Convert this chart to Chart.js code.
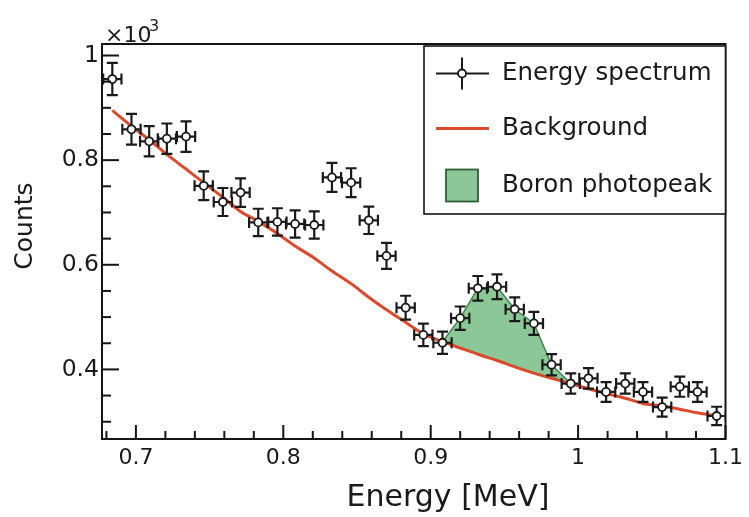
<!DOCTYPE html>
<html>
<head>
<meta charset="utf-8">
<script src="https://cdn.jsdelivr.net/npm/chart.js@4.4.0/dist/chart.umd.min.js"></script>
<style>
  html, body { margin: 0; padding: 0; background: #fff; }
  #plot { display: block; }
</style>
</head>
<body>
<canvas id="plot" width="749" height="517"></canvas>
<script>
// bin centres [MeV]
var energy = [0.684, 0.697, 0.709, 0.721, 0.734, 0.746, 0.759, 0.771, 0.783, 0.796,
              0.808, 0.821, 0.833, 0.846, 0.858, 0.870, 0.883, 0.895, 0.908, 0.920,
              0.932, 0.945, 0.957, 0.970, 0.982, 0.995, 1.007, 1.019, 1.032, 1.044,
              1.057, 1.069, 1.081, 1.094];
var counts = [955, 859, 836, 841, 845, 751, 720, 738, 681, 682,
              678, 676, 767, 757, 685, 617, 518, 466, 451, 498,
              555, 558, 515, 488, 409, 373, 383, 357, 373, 357,
              328, 367, 357, 311];
var countErr = [30.9, 29.3, 28.9, 29.0, 29.1, 27.4, 26.8, 27.2, 26.1, 26.1,
                26.0, 26.0, 27.7, 27.5, 26.2, 24.8, 22.8, 21.6, 21.2, 22.3,
                23.6, 23.6, 22.7, 22.1, 20.2, 19.3, 19.6, 18.9, 19.3, 18.9,
                18.1, 19.2, 18.9, 17.6];
var binHalfWidth = 0.0062;
var background = [895, 865, 839, 811, 783, 757, 729, 702, 683, 660,
                  636, 613, 588, 564, 538, 514, 490, 468, 453, 441,
                  429, 417, 405, 393, 383, 373, 363, 354, 345, 335,
                  330, 324, 317, 311];
// photopeak window: bins 18..25
var peakFirst = 18;
var peakTop = [453, 498, 555, 558, 515, 488, 409, 373];

var xTicks = [0.7, 0.8, 0.9, 1.0, 1.1];
var xTickLabels = ['0.7', '0.8', '0.9', '1', '1.1'];
var xMinorTicks = [0.68, 0.72, 0.74, 0.76, 0.78, 0.82, 0.84, 0.86, 0.88,
                   0.92, 0.94, 0.96, 0.98, 1.02, 1.04, 1.06, 1.08];
var yTicks = [400, 600, 800, 1000];
var yTickLabels = ['0.4', '0.6', '0.8', '1'];
var yMinorTicks = [300, 350, 450, 500, 550, 650, 700, 750, 850, 900, 950];

var FONT = "'DejaVu Sans', sans-serif";
var INK = '#1a1a1a';
var RED = '#db4a2c';
var GREEN = 'rgba(128, 194, 140, 0.9)';
var GREEN_EDGE = '#3d8a4d';

function toPoints(xs, ys) {
  return ys.map(function(y, i) { return { x: xs[i], y: y }; });
}

var peakEnergy = energy.slice(peakFirst, peakFirst + peakTop.length);
var peakBase = background.slice(peakFirst, peakFirst + peakTop.length);

function seg(ctx, x1, y1, x2, y2) {
  ctx.moveTo(x1, y1);
  ctx.lineTo(x2, y2);
}

// ROOT-like frame, inner ticks, error bars and legend box
var rootStyle = {
  id: 'rootStyle',
  beforeDatasetDraw: function(chart, args) {
    if (args.index !== 0) return;
    var ctx = chart.ctx, xs = chart.scales.x, ys = chart.scales.y;
    var a = chart.chartArea;
    ctx.save();
    ctx.beginPath();
    ctx.rect(a.left, a.top, a.right - a.left, a.bottom - a.top);
    ctx.clip();
    ctx.strokeStyle = INK;
    ctx.lineWidth = 2.2;
    var cap = 5.5;
    ctx.beginPath();
    for (var i = 0; i < energy.length; i++) {
      var px = xs.getPixelForValue(energy[i]);
      var py = ys.getPixelForValue(counts[i]);
      var yHi = ys.getPixelForValue(counts[i] + countErr[i]);
      var yLo = ys.getPixelForValue(counts[i] - countErr[i]);
      var xLo = xs.getPixelForValue(energy[i] - binHalfWidth);
      var xHi = xs.getPixelForValue(energy[i] + binHalfWidth);
      seg(ctx, px, yHi, px, yLo);
      seg(ctx, px - cap, yHi, px + cap, yHi);
      seg(ctx, px - cap, yLo, px + cap, yLo);
      seg(ctx, xLo, py, xHi, py);
      seg(ctx, xLo, py - cap, xLo, py + cap);
      seg(ctx, xHi, py - cap, xHi, py + cap);
    }
    ctx.stroke();
    ctx.restore();
  },
  afterDraw: function(chart) {
    var ctx = chart.ctx, xs = chart.scales.x, ys = chart.scales.y;
    var a = chart.chartArea;
    var i, p;
    ctx.save();
    ctx.strokeStyle = '#151515';
    ctx.lineWidth = 2;
    ctx.strokeRect(a.left, a.top, a.right - a.left, a.bottom - a.top);

    // inner ticks
    ctx.fillStyle = '#151515';
    for (i = 0; i < xTicks.length; i++) {
      p = xs.getPixelForValue(xTicks[i]);
      ctx.fillRect(p - 1, a.bottom - 14, 2, 14);
    }
    for (i = 0; i < xMinorTicks.length; i++) {
      p = xs.getPixelForValue(xMinorTicks[i]);
      ctx.fillRect(p - 1, a.bottom - 8, 2, 8);
    }
    for (i = 0; i < yTicks.length; i++) {
      p = ys.getPixelForValue(yTicks[i]);
      ctx.fillRect(a.left, p - 1, 17, 2);
    }
    for (i = 0; i < yMinorTicks.length; i++) {
      p = ys.getPixelForValue(yMinorTicks[i]);
      ctx.fillRect(a.left, p - 1, 9, 2);
    }

    // axis titles
    ctx.fillStyle = INK;
    ctx.font = '30px ' + FONT;
    ctx.textAlign = 'center';
    ctx.textBaseline = 'alphabetic';
    ctx.fillText('Energy [MeV]', 448, 506);
    ctx.save();
    ctx.translate(32, 226);
    ctx.rotate(-Math.PI / 2);
    ctx.font = '25px ' + FONT;
    ctx.fillText('Counts', 0, 0);
    ctx.restore();

    // exponent of the y axis
    ctx.textAlign = 'left';
    ctx.font = '22px ' + FONT;
    ctx.fillText('\u00d710', 105, 42);
    ctx.font = '16px ' + FONT;
    ctx.fillText('3', 149, 31);

    // legend
    var ds = chart.data.datasets;
    var lx = 424, ly = 46, lw = a.right - 424, lh = 168;
    ctx.fillStyle = '#fff';
    ctx.fillRect(lx, ly, lw, lh);
    ctx.strokeStyle = '#151515';
    ctx.lineWidth = 1.6;
    ctx.strokeRect(lx, ly, lw, lh);

    var rows = [73.5, 128.5, 185.5];
    // data marker with error cross
    ctx.strokeStyle = INK;
    ctx.lineWidth = 2;
    ctx.beginPath();
    seg(ctx, 436, rows[0], 489, rows[0]);
    seg(ctx, 462, rows[0] - 16, 462, rows[0] + 16);
    ctx.stroke();
    ctx.beginPath();
    ctx.arc(462, rows[0], 4, 0, Math.PI * 2);
    ctx.fillStyle = '#fff';
    ctx.fill();
    ctx.lineWidth = 1.8;
    ctx.stroke();
    // background line
    ctx.strokeStyle = ds[1].borderColor;
    ctx.lineWidth = 3;
    ctx.beginPath();
    seg(ctx, 436, rows[1], 489, rows[1]);
    ctx.stroke();
    // photopeak box
    ctx.fillStyle = ds[2].backgroundColor;
    ctx.fillRect(446, rows[2] - 16, 32, 32);
    ctx.strokeStyle = '#2f5f3a';
    ctx.lineWidth = 1.8;
    ctx.strokeRect(446, rows[2] - 16, 32, 32);

    ctx.fillStyle = INK;
    ctx.font = '24.5px ' + FONT;
    ctx.textBaseline = 'middle';
    ctx.fillText(ds[0].label, 502, rows[0]);
    ctx.fillText(ds[1].label, 502, rows[1]);
    ctx.fillText(ds[2].label, 502, rows[2]);
    ctx.restore();
  }
};

Chart.defaults.font.family = FONT;

new Chart(document.getElementById('plot'), {
  type: 'scatter',
  data: {
    datasets: [{
      label: 'Energy spectrum',
      data: toPoints(energy, counts),
      showLine: false,
      pointRadius: 4,
      pointBackgroundColor: '#fff',
      pointBorderColor: INK,
      pointBorderWidth: 1.8,
      order: 0
    }, {
      label: 'Background',
      data: toPoints(energy, background),
      showLine: true,
      borderColor: RED,
      borderWidth: 3,
      pointRadius: 0,
      tension: 0.3,
      fill: false,
      order: 1
    }, {
      label: 'Boron photopeak',
      data: toPoints(peakEnergy, peakTop),
      showLine: true,
      borderColor: GREEN_EDGE,
      borderWidth: 1.5,
      backgroundColor: GREEN,
      pointRadius: 0,
      fill: '+1',
      order: 2
    }, {
      label: 'peak base',
      data: toPoints(peakEnergy, peakBase),
      showLine: true,
      borderWidth: 0,
      borderColor: 'rgba(0,0,0,0)',
      pointRadius: 0,
      tension: 0.3,
      fill: false,
      order: 3
    }]
  },
  options: {
    responsive: false,
    animation: false,
    devicePixelRatio: 1,
    layout: { padding: { top: 44, right: 22, left: 0, bottom: 0 } },
    plugins: {
      legend: { display: false },
      tooltip: { enabled: false }
    },
    scales: {
      x: {
        type: 'linear',
        min: 0.677,
        max: 1.1,
        afterBuildTicks: function(scale) {
          scale.ticks = xTicks.map(function(t) { return { value: t }; });
        },
        afterFit: function(scale) { scale.height = 78; },
        ticks: {
          color: INK,
          font: { size: 22 },
          padding: 6,
          maxRotation: 0,
          callback: function(value) {
            var i = xTicks.findIndex(function(t) { return Math.abs(t - value) < 1e-6; });
            return i >= 0 ? xTickLabels[i] : '';
          }
        },
        grid: { display: false, drawTicks: false },
        border: { display: false }
      },
      y: {
        type: 'linear',
        min: 267,
        max: 1022,
        afterBuildTicks: function(scale) {
          scale.ticks = yTicks.map(function(t) { return { value: t }; });
        },
        afterFit: function(scale) { scale.width = 102; },
        ticks: {
          color: INK,
          font: { size: 23.5 },
          padding: 3,
          callback: function(value) {
            var i = yTicks.indexOf(value);
            return i >= 0 ? yTickLabels[i] : '';
          }
        },
        grid: { display: false, drawTicks: false },
        border: { display: false }
      }
    }
  },
  plugins: [rootStyle]
});
</script>
</body>
</html>
